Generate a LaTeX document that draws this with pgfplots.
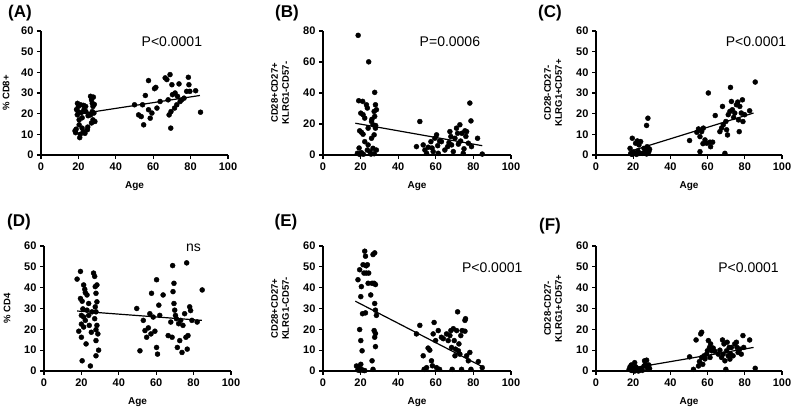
\documentclass[border=0pt]{standalone}
\usepackage{pgfplots}
\pgfplotsset{compat=1.18}
\usepackage{fontspec}
\setmainfont{Liberation Sans}
\pgfplotsset{
 panel/.style={
  scale only axis, width=187pt, height=124pt,
  xmin=0, xmax=100, ymin=0,
  axis lines*=left, axis line style={-, line width=1.3pt, black},
  xtick={0,20,40,60,80,100},
  tick align=outside, major tick length=4pt,
  tick style={line width=1.2pt, black},
  ticklabel style={font=\fontsize{11}{12}\selectfont\bfseries},
  /pgf/number format/assume math mode=true,
  clip=false, anchor=south west,
 },
 dots/.style={only marks, mark=*, mark size=2.5pt, black},
 fit/.style={black, line width=1.2pt, no marks},
}
\newcommand{\agelabel}{\node[font=\fontsize{10}{12}\selectfont\bfseries] at ([yshift=-31pt]rel axis cs:0.5,0) {Age};}
\begin{document}
\begin{tikzpicture}
\useasboundingbox (0,0) rectangle (794pt,411pt);
% ---------------- A
\begin{axis}[panel, at={(41pt,256pt)}, ymax=60, ytick={0,10,...,60}]
\addplot[dots] coordinates {(18.2,11.7)(18.5,10.8)(18.8,12.5)(19,22)(19.5,25)(19.5,19.4)(19.8,21)(20,23.5)(20.4,17)(20.4,14.6)(20.7,8.4)(21,10)(21.2,24.3)(21.5,20.5)(22,13)(22,18)(22.6,11.3)(22.8,24)(23,22)(23.5,10.5)(23.9,23.5)(24,21)(24.8,12.2)(25,13.5)(25.2,19)(26.5,28.4)(26.5,19.4)(27,26.7)(27,15.5)(27.4,25)(27.4,21)(27.8,23.5)(27.8,17)(28,28)(28.3,20.3)(28.8,16.2)(28.5,24.5)
(50,24.3)(52.2,19.4)(53.6,18.6)(54.3,24.3)(54.9,14.6)(55.8,28.8)(57.5,36)(57.5,21.9)(58.4,17.8)(59.3,20.3)(60.7,32.1)(61.4,32.7)(62,22.7)(63.7,25.9)(66.4,37.3)(67.3,36.5)(68,26.7)(68.5,19.4)(69,38.9)(69.4,13)(69.5,21)(70,34)(70.3,29.2)(71.4,22.7)(71.7,30)(72.6,24.3)(73,28.4)(73.8,34.4)(74.4,25.9)(75.2,26.7)(76.5,27.5)(77.9,30.8)(78.8,37.6)(79.1,34)(79.6,30.8)(82.7,31.1)(85.3,20.7)};
\addplot[fit] coordinates {(18,19.5)(85,28.8)};
\node[font=\fontsize{14}{16}\selectfont] at (axis cs:70,54.7) {P<0.0001};
\agelabel
\node[rotate=90, font=\fontsize{9.5}{11}\selectfont\bfseries] at ([xshift=-35pt]rel axis cs:0,0.5) {\% CD8+};
\end{axis}
% ---------------- B
\begin{axis}[panel, width=188pt, at={(323pt,256pt)}, ymax=80, ytick={0,20,...,80}]
\addplot[dots] coordinates {(18.7,77.2)(24.3,60.1)(27.5,40.4)(19,35)(21.1,34.6)(20.1,27)(21.3,26)(22.2,23.8)(20.4,14.7)(19.5,15.6)(21.3,13.4)(23.1,32.4)(23.6,30.3)(24,17.3)(25.8,21.6)(27.2,28.1)(27.9,32.4)(28.4,29.2)(27.5,24.9)(26.6,19.5)(27.9,17.3)(27.2,13)(22.2,8.6)(24,6.5)(25.8,10.8)(23.6,3.2)(24.9,2.2)(26.6,4.3)(27.2,0.8)(18.3,1.1)(19.5,0.4)(20.4,1.5)(28.4,3.2)(19.2,4.5)(21.5,0.5)(25.5,0.6)(28,19)(26,23)
(49.7,5.4)(51.5,21.6)(53.3,6.5)(54.2,3.2)(55.1,1.1)(56,5)(57.4,8.6)(58,4.5)(58.6,2.2)(59.5,10.8)(60.4,13)(61,6)(61.3,1.1)(62,9)(63,8.6)(64.8,3.2)(66.3,5.4)(67,8)(67.5,15.1)(68,11.9)(68.4,6.5)(69.3,2.2)(70.2,10.8)(71,17.3)(71.6,14)(72,7)(72.8,19.5)(73.2,9)(73.9,14)(74.6,1.1)(75,4)(75.5,15.6)(76,12)(76.4,15.1)(77.3,7.6)(78.1,33.5)(78.7,22)(79,5.4)(82.2,10.8)(84.7,0.6)};
\addplot[fit] coordinates {(17.2,20.5)(84.7,6)};
\node[font=\fontsize{14}{16}\selectfont] at (axis cs:67.5,73) {P=0.0006};
\agelabel
\node[rotate=90, align=center, font=\fontsize{9.5}{11}\selectfont\bfseries] at ([xshift=-43pt]rel axis cs:0,0.5) {CD28+CD27+\\KLRG1-CD57-};
\end{axis}
% ---------------- C
\begin{axis}[panel, width=186pt, at={(596pt,256pt)}, ymax=60, ytick={0,10,...,60}]
\addplot[dots] coordinates {(18.3,3.2)(19.5,8.1)(18.7,0.8)(20,1.5)(20.8,0.8)(21.3,5.7)(22.2,6.8)(23.1,4.9)(24,6.5)(22.5,2)(23.5,0.8)(24.9,0.8)(25.8,3.2)(26.6,2.8)(27.2,14.3)(27.9,17.8)(27.5,4)(28.4,1.6)(28.8,2.8)(27.2,0.5)(21.8,0.3)(19.5,0.3)(19,0.5)(26,1)(28,3.5)
(50.3,7)(54.2,11)(55.1,12.6)(55.9,8.9)(56.8,11.3)(57.7,13)(57.5,5.5)(55.9,1.6)(58.6,7.3)(59.5,5.7)(60.4,30)(61.3,6.2)(61.6,4)(62.7,6.2)(64.1,19.1)(66.6,11.3)(67.5,13)(68,23.5)(68.4,14.6)(69.3,0.8)(69.8,16.2)(70.2,12.2)(70.7,9.7)(71.1,19.5)(72,21.1)(72.3,32.7)(72.8,25.9)(73.3,21.9)(74,18.2)(74.6,20.3)(75.5,24.3)(76.2,25.6)(76.6,17)(77,11.3)(77.3,23.5)(78.1,20.3)(78.7,26.7)(79,16.2)(79.9,19.5)(82.6,21.4)(85.6,35.3)};
\addplot[fit] coordinates {(18.7,1.9)(84.7,20.3)};
\node[font=\fontsize{14}{16}\selectfont] at (axis cs:86,54.7) {P<0.0001};
\agelabel
\node[rotate=90, align=center, font=\fontsize{9.5}{11}\selectfont\bfseries] at ([xshift=-43pt]rel axis cs:0,0.5) {CD28-CD27-\\KLRG1+CD57+};
\end{axis}
% ---------------- D
\begin{axis}[panel, height=125pt, at={(44pt,40pt)}, ymax=60, ytick={0,10,...,60}]
\addplot[dots] coordinates {(17.7,44.1)(19.5,47.8)(18.6,19.1)(20,16.2)(20.4,4.9)(21.2,41.3)(21.8,39.2)(19.5,34.8)(20.4,33.5)(22.1,37.6)(20.8,29.8)(20,26.7)(21.2,25.9)(22.1,24.3)(23,29.2)(22.5,13)(23.9,32.4)(24.2,21.9)(24.8,2.4)(25.3,18.6)(26.5,47)(27.1,45.4)(27.4,40.5)(28.3,41.3)(27.8,37.3)(28.3,33.2)(27.4,30.8)(27.8,28.4)(27.1,25.1)(28.3,21.9)(27.8,19.8)(28.8,17.8)(27.8,14.6)(29.2,10)(27.8,7.3)(23,36.5)(23.9,26.7)(25.7,28.4)(21.2,21.1)(20,22.5)
(49.6,30)(51.3,9.7)(53.1,24.3)(54,19.4)(54.9,16.2)(55.8,20.7)(56.6,27.5)(57.2,17.8)(57.5,37.3)(58.4,25.9)(59.3,19.1)(60.2,43.8)(60.2,11.3)(60.7,8.1)(61.4,31.6)(61.9,26.7)(63.7,36.5)(66.4,17)(67.8,23.5)(68.5,16.2)(68.8,50.6)(69,38.1)(69.5,42.1)(69.5,32.4)(69.9,29.2)(70.3,26.7)(70.8,25.1)(71.3,11.3)(72,22.7)(72.6,14.6)(73.1,24.3)(73.8,8.9)(74.3,21.9)(75.2,27.5)(75.9,16.2)(76.3,51.9)(76.6,10.5)(77,17)(77.9,30.8)(78.4,29)(79.1,24.3)(81.9,23.5)(84.6,38.9)};
\addplot[fit] coordinates {(17.7,28.8)(84.4,24.3)};
\node[font=\fontsize{14}{16}\selectfont] at (axis cs:80,59) {ns};
\agelabel
\node[rotate=90, font=\fontsize{9.5}{11}\selectfont\bfseries] at ([xshift=-37pt]rel axis cs:0,0.5) {\% CD4};
\end{axis}
% ---------------- E
\begin{axis}[panel, width=188pt, height=125pt, at={(323pt,40pt)}, ymax=60, ytick={0,10,...,60}]
\addplot[dots] coordinates {(17.8,2.4)(18.5,0.5)(19,1.9)(19.5,0.3)(20.1,3.2)(20.4,0.8)(21.3,0.3)(22.2,0.2)(18.6,43.8)(19.5,48.6)(20.1,35.7)(20.4,40.5)(19.5,19.9)(20.1,14.6)(20.8,9.7)(21.3,51)(21.8,47)(22.2,57.5)(22.6,55.1)(22.6,27.9)(23,47)(23.6,51)(24,42.1)(24.3,47)(25.4,36.5)(26.1,42.1)(26.1,4.9)(26.6,55.9)(27.5,56.7)(27.2,42.1)(27.9,41.5)(27.5,32.4)(27.9,29.2)(28.4,26.7)(27.2,19.4)(27.9,18)(27.5,16.2)(27.9,11.7)(26.6,0.8)(21,27.5)(23,50.5)
(49.7,17.8)(51.5,21.9)(53.3,7.3)(53.8,0.8)(55.1,1.6)(55.9,11)(56.8,10)(57.7,4.9)(58.2,2.5)(58.6,17.8)(59.1,23.3)(59.9,14.6)(60.4,1.6)(61.3,19.4)(62,0.8)(63,16.2)(64,15.5)(65.7,17.8)(66.6,14.6)(67.5,17)(68,19.4)(68.4,11.3)(68.7,0.8)(69.3,20.3)(69.8,14.6)(70.2,7.3)(70.5,10.5)(71.1,19.4)(71.6,28.4)(72,9.7)(72.3,13)(72.8,8.1)(73.3,17)(73.7,0.8)(74,19.4)(75.5,24.3)(75.8,25.1)(75.5,19.1)(76.4,7.3)(77.3,4.9)(78.1,8.9)(78.7,0.8)(82.6,4.5)(84.7,1.6)};
\addplot[fit] coordinates {(17.2,33.5)(84.7,2.1)};
\node[font=\fontsize{14}{16}\selectfont] at (axis cs:90,49.4) {P<0.0001};
\agelabel
\node[rotate=90, align=center, font=\fontsize{9.5}{11}\selectfont\bfseries] at ([xshift=-43pt]rel axis cs:0,0.5) {CD28+CD27+\\KLRG1-CD57-};
\end{axis}
% ---------------- F
\begin{axis}[panel, width=186pt, height=125pt, at={(596pt,40pt)}, ymax=60, ytick={0,10,...,60}]
\addplot[dots] coordinates {(17.8,0.8)(18.3,2)(19,2.9)(19.5,0.3)(20.2,1.2)(20.8,4)(21.3,2)(22.2,0.8)(21.8,1.5)(23.1,0.3)(24,1.2)(24.9,0.3)(25.8,2.4)(26.1,4.9)(27.2,5.2)(26.6,3.2)(27.5,2)(27.9,0.8)(28.4,2.9)(28.8,1.2)(19,0.3)(20.8,0)(22.8,0)
(50.3,6.8)(52.4,0.8)(53.8,14.9)(55.1,2.4)(55.6,4.5)(56.3,17.8)(56.8,18.6)(56.8,6.5)(57.4,3.2)(58.1,7.3)(58.6,5.8)(59.5,8.1)(59.9,9.7)(60.4,14.6)(61,11.3)(61.3,6.5)(61.6,13)(62.2,9.7)(63,11)(63.8,9.5)(65.7,8.1)(66.6,10)(67.5,6.5)(68,14.9)(68.4,8.1)(68.8,13)(69.3,4.9)(69.8,0.8)(70.2,9.7)(70.5,13.8)(71.1,7.3)(71.6,11.3)(72,5.7)(72.3,8.2)(72.8,11.3)(73.7,7.3)(74.6,13)(75.5,13.8)(75.8,11.3)(76.4,8.9)(77.3,10.5)(78.1,8.1)(79,17)(79.4,11.3)(82.6,14.9)(85.6,1.3)};
\addplot[fit] coordinates {(19,1.3)(84.7,11.3)};
\node[font=\fontsize{14}{16}\selectfont] at (axis cs:82,49.4) {P<0.0001};
\agelabel
\node[rotate=90, align=center, font=\fontsize{9.5}{11}\selectfont\bfseries] at ([xshift=-43pt]rel axis cs:0,0.5) {CD28-CD27-\\KLRG1+CD57+};
\end{axis}
% panel labels
\node[font=\fontsize{17}{20}\selectfont\bfseries] at (20pt,398pt) {(A)};
\node[font=\fontsize{17}{20}\selectfont\bfseries] at (287pt,398pt) {(B)};
\node[font=\fontsize{17}{20}\selectfont\bfseries] at (550pt,398pt) {(C)};
\node[font=\fontsize{17}{20}\selectfont\bfseries] at (19pt,189pt) {(D)};
\node[font=\fontsize{17}{20}\selectfont\bfseries] at (286pt,189pt) {(E)};
\node[font=\fontsize{17}{20}\selectfont\bfseries] at (550pt,185pt) {(F)};
\end{tikzpicture}
\end{document}
